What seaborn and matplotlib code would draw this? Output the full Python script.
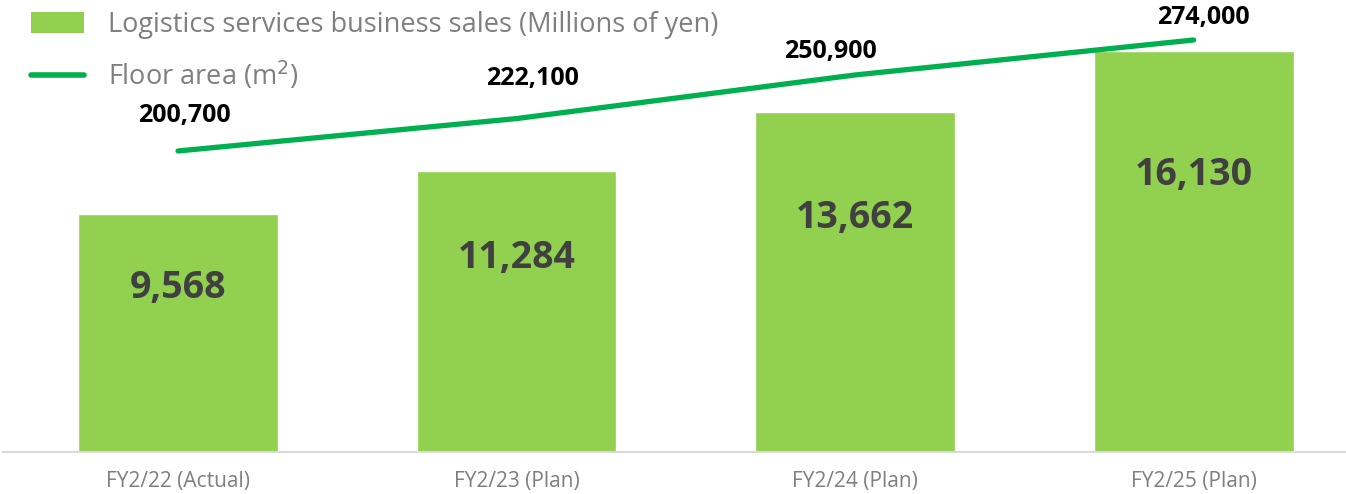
import matplotlib
matplotlib.use("Agg")
import matplotlib.pyplot as plt
import seaborn as sns
import numpy as np
import pandas as pd
from matplotlib.patches import Patch
from matplotlib.lines import Line2D

categories = ["FY2/22 (Actual)", "FY2/23 (Plan)", "FY2/24 (Plan)", "FY2/25 (Plan)"]
sales = [9568, 11284, 13662, 16130]
floor_area = [200700, 222100, 250900, 274000]
bar_label = "Logistics services business sales (Millions of yen)"
line_label = "Floor area (m$^2$)"

# label offsets (pixels) for line labels - styling only
line_label_offsets = [(6, 35), (16, 40), (-25, 23), (10, 22)]

BAR_COLOR = "#92d050"
LINE_COLOR = "#00b050"
FONT = "Open Sans"

sns.set_theme(style="white")
plt.rcParams["font.family"] = [FONT, "DejaVu Sans"]

fig = plt.figure(figsize=(13.46, 4.94), dpi=100)
ax = fig.add_axes([3 / 1346, 42 / 494, 1343 / 1346, 452 / 494])

df = pd.DataFrame({"cat": categories, "sales": sales})
sns.barplot(data=df, x="cat", y="sales", color=BAR_COLOR, saturation=1,
            width=0.59, ax=ax)
ax.set_xlim(-0.517, 3.45)
ax.set_ylim(0, 18175)
ax.set_xlabel("")
ax.set_ylabel("")
ax.set_yticks([])
for s in ["top", "right", "left"]:
    ax.spines[s].set_visible(False)
ax.spines["bottom"].set_color("#d9d9d9")
ax.spines["bottom"].set_linewidth(1.5)
ax.tick_params(axis="x", length=0, pad=14, labelsize=15, labelcolor="#7f7f7f")

for i, v in enumerate(sales):
    ax.text(i, v * 0.69, f"{v:,}", ha="center", va="center",
            fontsize=27, fontweight="bold", color="#404040")

ax2 = ax.twinx()
xs = np.arange(len(floor_area))
sns.lineplot(x=xs, y=floor_area, color=LINE_COLOR, linewidth=3.8, ax=ax2,
             solid_capstyle="round")
ax2.set_ylim(1920, 300400)
ax2.set_yticks([])
for s in ["top", "right", "left", "bottom"]:
    ax2.spines[s].set_visible(False)
for i, v in enumerate(floor_area):
    dx, dy = line_label_offsets[i]
    ax2.annotate(f"{v:,}", (i, v), xytext=(dx, dy), textcoords="offset pixels",
                 ha="center", va="center", fontsize=18, fontweight="bold",
                 color="black")

handles = [Patch(facecolor=BAR_COLOR, edgecolor="none"),
           Line2D([0], [0], color=LINE_COLOR, linewidth=4)]
leg = fig.legend(handles, [bar_label, line_label], loc="upper left",
                 bbox_to_anchor=(24 / 1346, 1 - 4 / 494), frameon=False,
                 fontsize=19.5, labelcolor="#7f7f7f", handlelength=1.95,
                 handleheight=0.8, handletextpad=0.9, labelspacing=0.75,
                 borderpad=0.25, borderaxespad=0)

fig.savefig("out.png", dpi=100)
